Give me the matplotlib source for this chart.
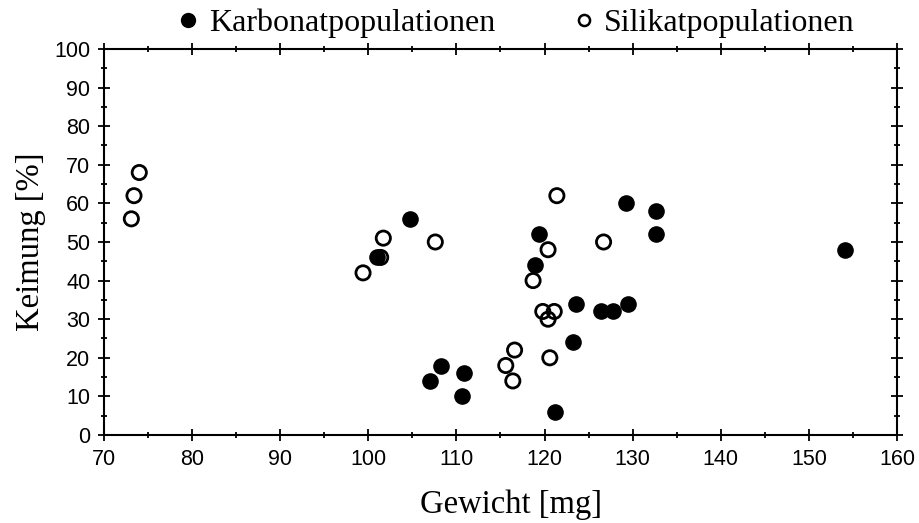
import matplotlib
matplotlib.use("Agg")
import matplotlib.pyplot as plt
from matplotlib.lines import Line2D
from matplotlib.ticker import MultipleLocator

# Karbonatpopulationen (filled)
karb_gewicht = [104.7, 119.4, 118.9, 123.6, 126.4, 127.8, 129.5, 123.2, 108.2,
                107.0, 110.9, 110.6, 121.2, 129.2, 132.7, 132.7, 101.0, 154.1]
karb_keimung = [56, 52, 44, 34, 32, 32, 34, 24, 18,
                14, 16, 10, 6, 60, 58, 52, 46, 48]

# Silikatpopulationen (open)
sil_gewicht = [121.4, 107.6, 120.4, 118.7, 119.8, 121.1, 120.4, 120.6, 116.6,
               115.6, 116.4, 126.7, 74.0, 73.4, 73.1, 101.7, 99.4, 101.4]
sil_keimung = [62, 50, 48, 40, 32, 32, 30, 20, 22,
               18, 14, 50, 68, 62, 56, 51, 42, 46]

serif = ["Liberation Serif", "DejaVu Serif"]
sans = ["Liberation Sans Narrow", "Liberation Sans", "DejaVu Sans"]

fig = plt.figure(figsize=(9.19, 5.23), dpi=100)
ax = fig.add_axes([0.1132, 0.1683, 0.8628, 0.738])

ax.scatter(karb_gewicht, karb_keimung, s=120, c="black", edgecolors="black",
           linewidths=1, zorder=3)
ax.scatter(sil_gewicht, sil_keimung, s=105, facecolors="none", edgecolors="black",
           linewidths=2, zorder=4)

ax.set_xlim(70, 160)
ax.set_ylim(0, 100)
ax.xaxis.set_major_locator(MultipleLocator(10))
ax.xaxis.set_minor_locator(MultipleLocator(5))
ax.yaxis.set_major_locator(MultipleLocator(10))
ax.yaxis.set_minor_locator(MultipleLocator(5))

for s in ax.spines.values():
    s.set_linewidth(1.5)

ax.tick_params(which="both", direction="inout", top=True, right=True, width=1.3)
ax.tick_params(which="major", length=8, pad=6)
ax.tick_params(which="minor", length=5)
for lab in ax.get_xticklabels() + ax.get_yticklabels():
    lab.set_family(sans)
    lab.set_fontsize(15.5)

ax.set_xlabel("Gewicht [mg]", family=serif, fontsize=23.5, labelpad=14)
ax.xaxis.label.set_x(0.513)
ax.set_ylabel("Keimung [%]", family=serif, fontsize=23.5, labelpad=6)

handles = [
    Line2D([], [], ls="none", marker="o", ms=10, mfc="black", mec="black"),
    Line2D([], [], ls="none", marker="o", ms=8, mfc="none", mec="black", mew=1.8),
]
fig.legend(handles, ["Karbonatpopulationen", "Silikatpopulationen"], ncol=2,
           loc="center", bbox_to_anchor=(0.559, 0.955), frameon=False,
           prop={"family": serif, "size": 23}, handletextpad=0.15,
           columnspacing=2.26, handlelength=1.0)

fig.savefig("out.png", dpi=100)
